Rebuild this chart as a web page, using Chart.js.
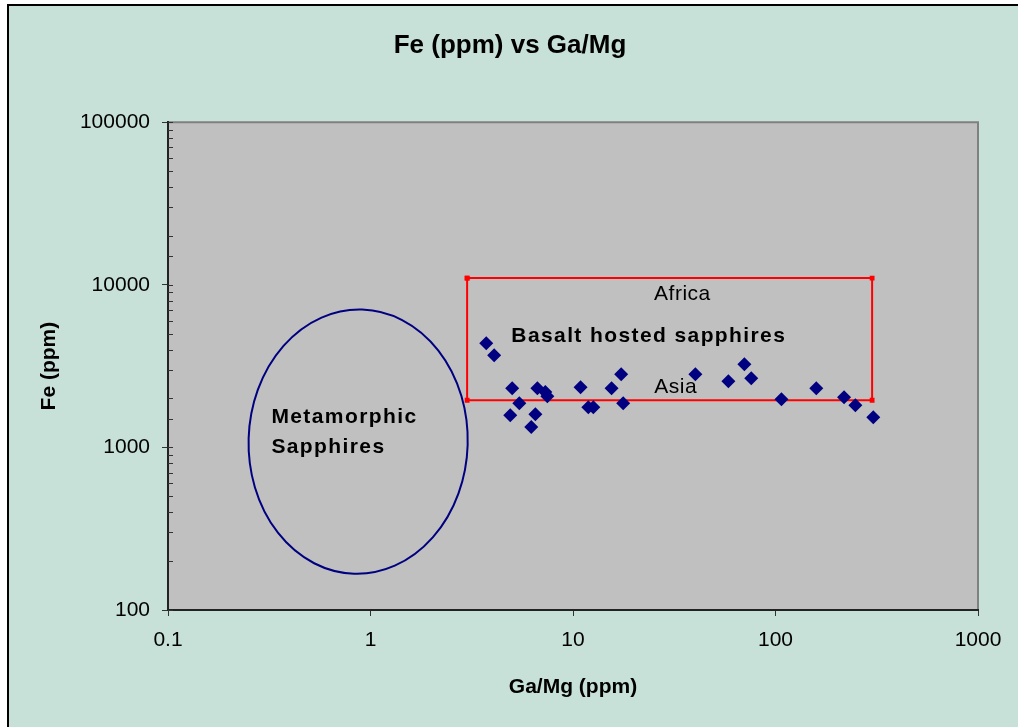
<!DOCTYPE html>
<html>
<head>
<meta charset="utf-8">
<script src="https://cdn.jsdelivr.net/npm/chart.js@4/dist/chart.umd.min.js"></script>
<style>
  html, body { margin: 0; padding: 0; background: #fff; }
  #wrap { width: 1018px; height: 727px; position: relative; }
</style>
</head>
<body>
<div id="wrap"><canvas id="feChart" width="1018" height="727"></canvas></div>
<script>
const TITLE = "Fe (ppm) vs Ga/Mg";
const X_TITLE = "Ga/Mg (ppm)";
const Y_TITLE = "Fe (ppm)";

// sapphire samples
const GA_MG = [3.73, 4.08, 5.01, 5.43, 4.90, 6.67, 6.52, 6.22, 7.30, 7.47, 10.9, 11.9, 12.6, 15.5, 17.3, 17.7, 40.2, 58.5, 70.2, 75.9, 107, 159, 218, 248, 304];
const FE = [4375, 3690, 2313, 1871, 1579, 2313, 1600, 1333, 2188, 2066, 2346, 1768, 1768, 2313, 2820, 1871, 2820, 2552, 3250, 2665, 1981, 2313, 2037, 1819, 1535];

// basalt field box
const BOX_X = [3, 300, 300, 3, 3];
const BOX_Y = [11000, 11000, 1950, 1950, 11000];

// metamorphic field (ellipse bounds)
const ELLIPSE_X = [0.25, 3.02];
const ELLIPSE_Y = [167, 7050];

const X_TICKS = [0.1, 1, 10, 100, 1000];
const Y_TICKS = [100, 1000, 10000, 100000];

const NOTES = [
  { text: "Africa", x: 34.7, y: 8040, bold: false, align: "center" },
  { text: "Basalt hosted sapphires", x: 4.96, y: 4455, bold: true, align: "left" },
  { text: "Asia", x: 25.2, y: 2164, bold: false, align: "left" },
  { text: "Metamorphic", x: 0.324, y: 1416, bold: true, align: "left" },
  { text: "Sapphires", x: 0.324, y: 927, bold: true, align: "left" },
];

const FONT = "'Liberation Sans', Arial, sans-serif";

const isMajor = (v) => Math.abs(Math.log10(v) - Math.round(Math.log10(v))) < 1e-6;

const backdrop = {
  id: "backdrop",
  beforeDraw(chart) {
    const c = chart.ctx;
    const a = chart.chartArea;
    c.save();
    c.fillStyle = "#ffffff";
    c.fillRect(0, 0, chart.width, chart.height);
    c.fillStyle = "#c8e1d8";
    c.fillRect(7, 4, chart.width, chart.height);
    c.strokeStyle = "#000";
    c.lineWidth = 2;
    c.beginPath();
    c.moveTo(8, chart.height);
    c.lineTo(8, 5);
    c.lineTo(chart.width, 5);
    c.stroke();
    c.fillStyle = "#c0c0c0";
    c.fillRect(a.left, a.top, a.right - a.left, a.bottom - a.top);
    c.strokeStyle = "#808080";
    c.lineWidth = 2;
    c.beginPath();
    c.moveTo(a.left, a.top);
    c.lineTo(a.right, a.top);
    c.lineTo(a.right, a.bottom);
    c.stroke();
    c.restore();
  },
  beforeDatasetsDraw(chart) {
    const c = chart.ctx;
    const xs = chart.scales.x;
    const ys = chart.scales.y;
    const x0 = xs.getPixelForValue(ELLIPSE_X[0]);
    const x1 = xs.getPixelForValue(ELLIPSE_X[1]);
    const y0 = ys.getPixelForValue(ELLIPSE_Y[1]);
    const y1 = ys.getPixelForValue(ELLIPSE_Y[0]);
    c.save();
    c.strokeStyle = "#000080";
    c.lineWidth = 2;
    c.beginPath();
    c.ellipse((x0 + x1) / 2, (y0 + y1) / 2, (x1 - x0) / 2, (y1 - y0) / 2, 0.03, 0, Math.PI * 2);
    c.stroke();
    // inner ticks on y axis
    c.strokeStyle = "#333";
    c.lineWidth = 1;
    ys.ticks.forEach((t) => {
      const py = Math.round(ys.getPixelForValue(t.value)) + 0.5;
      c.beginPath();
      c.moveTo(xs.left, py);
      c.lineTo(xs.left + 5, py);
      c.stroke();
    });
    c.restore();
  },
  afterDatasetsDraw(chart) {
    const c = chart.ctx;
    const xs = chart.scales.x;
    const ys = chart.scales.y;
    c.save();
    c.fillStyle = "#000";
    c.textBaseline = "alphabetic";
    NOTES.forEach((n) => {
      c.font = (n.bold ? "bold 21px " : "21px ") + FONT;
      c.letterSpacing = n.bold ? "1.4px" : "0.5px";
      c.textAlign = n.align;
      c.fillText(n.text, xs.getPixelForValue(n.x), ys.getPixelForValue(n.y));
    });
    c.restore();
  },
};

new Chart(document.getElementById("feChart"), {
  type: "scatter",
  data: {
    datasets: [
      {
        data: GA_MG.map((x, i) => ({ x, y: FE[i] })),
        pointStyle: "rectRot",
        pointRadius: 7,
        backgroundColor: "#000080",
        borderColor: "#000080",
        borderWidth: 0,
        order: 0,
      },
      {
        data: BOX_X.map((x, i) => ({ x, y: BOX_Y[i] })),
        showLine: true,
        borderColor: "#ff0000",
        borderWidth: 2,
        pointStyle: "rect",
        pointRadius: 2,
        backgroundColor: "#ff0000",
        order: 1,
      },
    ],
  },
  options: {
    responsive: false,
    animation: false,
    layout: { padding: { left: 42, right: 40, top: 0, bottom: 0 } },
    plugins: {
      legend: { display: false },
      tooltip: { enabled: false },
      title: {
        display: true,
        text: TITLE,
        color: "#000",
        font: { family: FONT, size: 26, weight: "bold" },
        padding: { top: 30, bottom: 61 },
      },
    },
    scales: {
      x: {
        type: "logarithmic",
        min: 0.1,
        max: 1000,
        afterBuildTicks: (s) => { s.ticks = X_TICKS.map((v) => ({ value: v })); },
        afterFit: (s) => { s.height = 117; },
        border: { color: "#222", width: 2 },
        grid: { drawOnChartArea: false, tickLength: 6, tickColor: "#333" },
        ticks: {
          autoSkip: false,
          maxRotation: 0,
          padding: 12,
          color: "#000",
          font: { family: FONT, size: 21 },
          callback: (v) => String(v),
        },
        title: {
          display: true,
          text: X_TITLE,
          color: "#000",
          font: { family: FONT, size: 21, weight: "bold" },
          padding: { top: 0, bottom: 27 },
        },
      },
      y: {
        type: "logarithmic",
        min: 100,
        max: 100000,
        afterFit: (s) => { s.width = 126; },
        border: { color: "#222", width: 2 },
        grid: {
          drawOnChartArea: false,
          tickLength: 6,
          tickColor: (ctx) => (ctx.tick && isMajor(ctx.tick.value) ? "#333" : "rgba(0,0,0,0)"),
        },
        ticks: {
          autoSkip: false,
          padding: 12,
          color: "#000",
          font: { family: FONT, size: 21 },
          callback: (v) => (isMajor(v) && Y_TICKS.includes(Math.round(v)) ? String(Math.round(v)) : ""),
        },
        title: {
          display: true,
          text: Y_TITLE,
          color: "#000",
          font: { family: FONT, size: 21, weight: "bold" },
          padding: { top: -5, bottom: 0 },
        },
      },
    },
  },
  plugins: [backdrop],
});
</script>
</body>
</html>
